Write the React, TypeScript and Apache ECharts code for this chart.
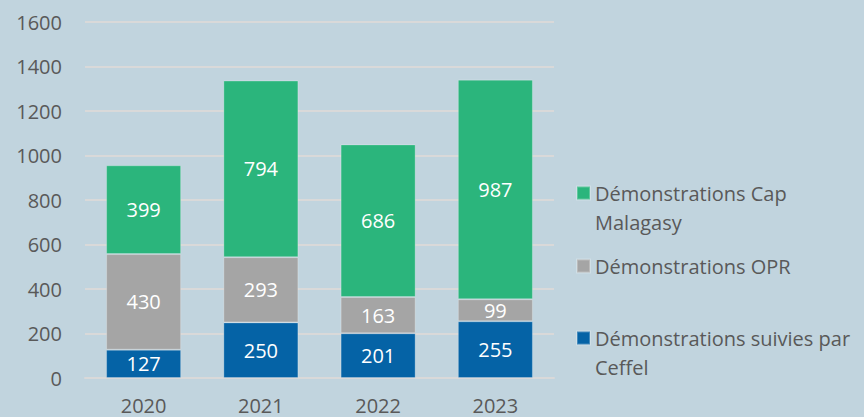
import React, { useEffect, useRef } from "react";
import * as echarts from "echarts";

const categories = ["2020", "2021", "2022", "2023"];
const ceffel = [127, 250, 201, 255];
const opr = [430, 293, 163, 99];
const capMalagasy = [399, 794, 686, 987];
const yTicks = { min: 0, max: 1600, interval: 200 };

const NAME_CEFFEL = "Démonstrations suivies par Ceffel";
const NAME_OPR = "Démonstrations OPR";
const NAME_CAP = "Démonstrations Cap Malagasy";

const FONT = "Open Sans";
const TEXT_COLOR = "#595959";

export default function App() {
  const ref = useRef<HTMLDivElement>(null);
  useEffect(() => {
    if (!ref.current) return;
    const chart = echarts.init(ref.current, undefined, { renderer: "svg" });
    const label = {
      show: true,
      position: "inside",
      color: "#ffffff",
      fontSize: 20,
      fontFamily: FONT,
    };
    const legendText = {
      fontSize: 20,
      fontFamily: FONT,
      color: TEXT_COLOR,
      lineHeight: 29,
    };
    const mkLegend = (name: string, top: number, lines: string) => ({
      data: [name],
      left: 576,
      top,
      padding: 0,
      orient: "vertical",
      itemWidth: 13,
      itemHeight: 13,
      icon: "rect",
      selectedMode: false,
      formatter: () => lines,
      textStyle: { ...legendText },
    });
    chart.setOption({
      animation: false,
      backgroundColor: "#c1d4de",
      textStyle: { fontFamily: FONT },
      grid: { left: 85, right: 310, top: 22, bottom: 39 },
      legend: [
        mkLegend(NAME_CAP, 149.5, " \nDémonstrations Cap\nMalagasy"),
        mkLegend(NAME_OPR, 251.5, "Démonstrations OPR"),
        mkLegend(NAME_CEFFEL, 294.5, " \nDémonstrations suivies par\nCeffel"),
      ],
      xAxis: {
        type: "category",
        data: categories,
        axisLine: { lineStyle: { color: "#d9d9d9", width: 2 } },
        axisTick: { show: false },
        axisLabel: { color: TEXT_COLOR, fontSize: 20, fontFamily: FONT, margin: 17 },
      },
      yAxis: {
        type: "value",
        min: yTicks.min,
        max: yTicks.max,
        interval: yTicks.interval,
        axisLine: { show: false },
        axisTick: { show: false },
        splitLine: { lineStyle: { color: "#d9d9d9", width: 2 } },
        axisLabel: {
          color: TEXT_COLOR,
          fontSize: 20,
          fontFamily: FONT,
          margin: 23,
          formatter: (v: number) => String(v),
        },
      },
      series: [
        {
          name: NAME_CEFFEL,
          type: "bar",
          stack: "total",
          data: ceffel,
          barWidth: "64%",
          itemStyle: { color: "#0563a6", borderColor: "rgba(255,255,255,0.25)", borderWidth: 1 },
          label,
        },
        {
          name: NAME_OPR,
          type: "bar",
          stack: "total",
          data: opr,
          itemStyle: { color: "#a5a5a5", borderColor: "rgba(255,255,255,0.25)", borderWidth: 1 },
          label,
        },
        {
          name: NAME_CAP,
          type: "bar",
          stack: "total",
          data: capMalagasy,
          itemStyle: { color: "#2bb57c", borderColor: "rgba(255,255,255,0.25)", borderWidth: 1 },
          label,
        },
      ],
    });
    return () => chart.dispose();
  }, []);
  return <div ref={ref} style={{ width: 864, height: 417, position: "fixed", left: 0, top: 0 }} />;
}
